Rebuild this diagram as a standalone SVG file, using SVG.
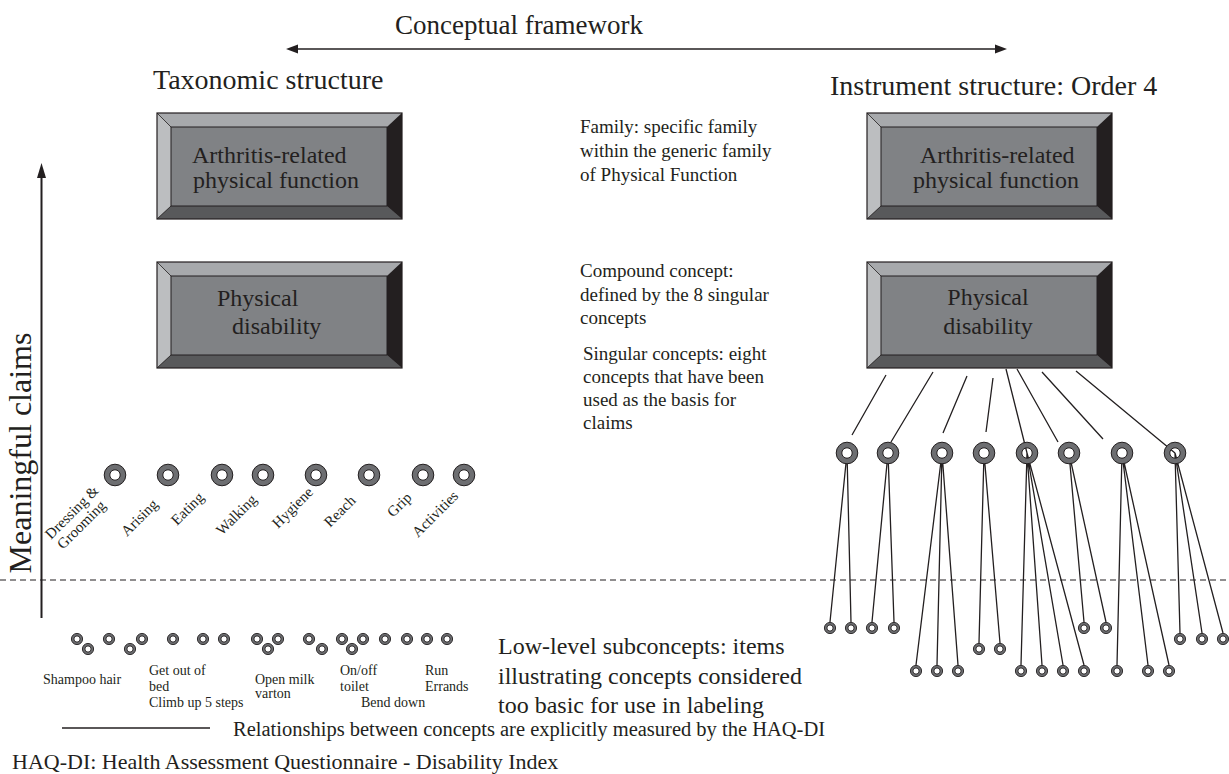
<svg xmlns="http://www.w3.org/2000/svg" xmlns:xlink="http://www.w3.org/1999/xlink" width="1229" height="774" viewBox="0 0 1229 774">
<style>
text{font-family:"Liberation Serif","Times New Roman",serif;fill:#231f20}
.ln{stroke:#231f20;stroke-width:1.3;fill:none}
.h1{font-size:27px}
.h2{font-size:28px}
.bx{font-size:24px}
.mid{font-size:19px}
.low{font-size:24px}
.rot{font-size:15px}
.lab{font-size:14px}
</style>
<defs>
<g id="bevel">
<rect x="0" y="0" width="245" height="106" fill="#808285"/>
<polygon points="0,0 245,0 230,14 14,14" fill="#a7a9ac"/>
<polygon points="0,0 14,14 14,93 0,106" fill="#bcbec0"/>
<polygon points="0,106 14,93 230,93 245,106" fill="#58595b"/>
<polygon points="245,0 245,106 230,93 230,14" fill="#231f20"/>
<rect x="14" y="14" width="216" height="79" fill="#808285" stroke="#231f20" stroke-width="1"/>
<path d="M0,0 L14,14 M0,106 L14,93" stroke="#231f20" stroke-width="0.8"/>
<rect x="0" y="0" width="245" height="106" fill="none" stroke="#231f20" stroke-width="1.2"/>
</g>
<g id="ring"><circle r="8" fill="none" stroke="#6d6e71" stroke-width="5.6"/><circle r="10.8" fill="none" stroke="#231f20" stroke-width="1"/><circle r="5.2" fill="none" stroke="#231f20" stroke-width="1"/></g>
<g id="ringw"><circle r="5.2" fill="#fff"/><use xlink:href="#ring" href="#ring"/></g>
<g id="dot"><circle r="5.6" fill="#6d6e71" stroke="#231f20" stroke-width="0.9"/><circle r="3.1" fill="#fff" stroke="#231f20" stroke-width="0.9"/></g>
</defs>
<rect width="1229" height="774" fill="#fff"/>

<!-- headings -->
<g id="headings">
<text class="h1" x="519" y="34" text-anchor="middle">Conceptual framework</text>
<text class="h2" x="153" y="89">Taxonomic structure</text>
<text class="h2" x="830" y="95">Instrument structure: Order 4</text>
<text transform="translate(31,453) rotate(-90)" text-anchor="middle" style="font-size:32px">Meaningful claims</text>
</g>

<!-- connectors -->
<g id="connectors">
<line class="ln" x1="297" y1="49" x2="996" y2="49"/>
<polygon points="286,49 298,44.5 298,53.5" fill="#231f20"/>
<polygon points="1007,49 995,44.5 995,53.5" fill="#231f20"/>
<line x1="41.5" y1="175" x2="41.5" y2="618" stroke="#231f20" stroke-width="2"/>
<polygon points="41.5,163 37,178 46,178" fill="#231f20"/>
<line x1="0" y1="580" x2="1229" y2="580" stroke="#231f20" stroke-width="1.2" stroke-dasharray="6 4"/>
<line x1="62" y1="728" x2="210" y2="728" stroke="#231f20" stroke-width="1.3"/>
<!-- box to singular concepts -->
<path class="ln" d="M886,375 L852,435 M933,372 L891,442 M967,376 L943,433 M993,378 L986,432 M1006,369 L1027,453 M1017,369 L1058,442 M1042,372 L1103,439 M1076,371 L1175,453"/>
<!-- singular concepts to items -->
<path class="ln" d="M847,453 L830,622 M847,453 L851,622 M888,453 L872,622 M888,453 L894,622 M942,453 L916,665 M942,453 L937,665 M942,453 L958,665 M984,453 L979,643 M984,453 L1000,643 M1027,453 L1021,665 M1027,453 L1042,665 M1027,453 L1063,665 M1027,453 L1084,665 M1069,453 L1084,622 M1069,453 L1106,622 M1122,453 L1117,665 M1122,453 L1148,665 M1122,453 L1169,665 M1175,453 L1180,633 M1175,453 L1202,633 M1175,453 L1223,633"/>
</g>

<!-- boxes -->
<g id="box-arthritis-left">
<use xlink:href="#bevel" href="#bevel" x="157" y="113"/>
<text class="bx" x="192" y="163">Arthritis-related</text>
<text class="bx" x="193" y="188">physical function</text>
</g>
<g id="box-disability-left">
<use xlink:href="#bevel" href="#bevel" x="157" y="262"/>
<text class="bx" x="217" y="306">Physical</text>
<text class="bx" x="232" y="334">disability</text>
</g>
<g id="box-arthritis-right">
<use xlink:href="#bevel" href="#bevel" x="867" y="113"/>
<text class="bx" x="920" y="163">Arthritis-related</text>
<text class="bx" x="913" y="188">physical function</text>
</g>
<g id="box-disability-right">
<use xlink:href="#bevel" href="#bevel" x="867" y="262"/>
<text class="bx" x="988" y="305" text-anchor="middle">Physical</text>
<text class="bx" x="988" y="334" text-anchor="middle">disability</text>
</g>

<!-- descriptions -->
<g id="desc-family">
<text class="mid" x="580" y="133">Family: specific family</text>
<text class="mid" x="580" y="157">within the generic family</text>
<text class="mid" x="580" y="181">of Physical Function</text>
</g>
<g id="desc-compound">
<text class="mid" x="580" y="277">Compound concept:</text>
<text class="mid" x="580" y="301">defined by the 8 singular</text>
<text class="mid" x="580" y="324">concepts</text>
</g>
<g id="desc-singular">
<text class="mid" x="583" y="360">Singular concepts: eight</text>
<text class="mid" x="583" y="383">concepts that have been</text>
<text class="mid" x="583" y="406">used as the basis for</text>
<text class="mid" x="583" y="429">claims</text>
</g>
<g id="desc-low">
<text class="low" x="498" y="654">Low-level subconcepts: items</text>
<text class="low" x="498" y="684">illustrating concepts considered</text>
<text class="low" x="498" y="713">too basic for use in labeling</text>
</g>

<!-- left singular concepts -->
<g id="left-singular">
<use xlink:href="#ringw" href="#ringw" x="115" y="475"/>
<use xlink:href="#ringw" href="#ringw" x="168" y="475"/>
<use xlink:href="#ringw" href="#ringw" x="222" y="475"/>
<use xlink:href="#ringw" href="#ringw" x="263" y="475"/>
<use xlink:href="#ringw" href="#ringw" x="316" y="475"/>
<use xlink:href="#ringw" href="#ringw" x="369" y="475"/>
<use xlink:href="#ringw" href="#ringw" x="423" y="475"/>
<use xlink:href="#ringw" href="#ringw" x="464" y="475"/>
<text class="rot" transform="translate(51,540) rotate(-45)">Dressing &amp;</text>
<text class="rot" transform="translate(63,550) rotate(-45)">Grooming</text>
<text class="rot" transform="translate(127,537) rotate(-45)">Arising</text>
<text class="rot" transform="translate(177,526) rotate(-45)">Eating</text>
<text class="rot" transform="translate(222,536) rotate(-45)">Walking</text>
<text class="rot" transform="translate(278,529) rotate(-45)">Hygiene</text>
<text class="rot" transform="translate(330,528) rotate(-45)">Reach</text>
<text class="rot" transform="translate(393,518) rotate(-45)">Grip</text>
<text class="rot" transform="translate(418,538) rotate(-45)">Activities</text>
</g>

<!-- left items -->
<g id="left-items">
<use xlink:href="#dot" href="#dot" x="77" y="639"/>
<use xlink:href="#dot" href="#dot" x="88" y="649"/>
<use xlink:href="#dot" href="#dot" x="109" y="639"/>
<use xlink:href="#dot" href="#dot" x="130" y="649"/>
<use xlink:href="#dot" href="#dot" x="142" y="639"/>
<use xlink:href="#dot" href="#dot" x="173" y="639"/>
<use xlink:href="#dot" href="#dot" x="203" y="639"/>
<use xlink:href="#dot" href="#dot" x="224" y="639"/>
<use xlink:href="#dot" href="#dot" x="257" y="639"/>
<use xlink:href="#dot" href="#dot" x="268" y="649"/>
<use xlink:href="#dot" href="#dot" x="278" y="639"/>
<use xlink:href="#dot" href="#dot" x="309" y="639"/>
<use xlink:href="#dot" href="#dot" x="322" y="649"/>
<use xlink:href="#dot" href="#dot" x="342" y="639"/>
<use xlink:href="#dot" href="#dot" x="352" y="649"/>
<use xlink:href="#dot" href="#dot" x="363" y="639"/>
<use xlink:href="#dot" href="#dot" x="385" y="639"/>
<use xlink:href="#dot" href="#dot" x="407" y="639"/>
<use xlink:href="#dot" href="#dot" x="427" y="639"/>
<use xlink:href="#dot" href="#dot" x="447" y="639"/>
<text class="lab" x="43" y="684">Shampoo hair</text>
<text class="lab" x="149" y="675">Get out of</text>
<text class="lab" x="149" y="691">bed</text>
<text class="lab" x="149" y="707">Climb up 5 steps</text>
<text class="lab" x="255" y="684">Open milk</text>
<text class="lab" x="255" y="698">varton</text>
<text class="lab" x="340" y="675">On/off</text>
<text class="lab" x="340" y="691">toilet</text>
<text class="lab" x="361" y="707">Bend down</text>
<text class="lab" x="425" y="675">Run</text>
<text class="lab" x="425" y="691">Errands</text>
</g>

<!-- right singular concepts -->
<g id="right-singular">
<use xlink:href="#ringw" href="#ringw" x="847" y="453"/>
<use xlink:href="#ringw" href="#ringw" x="888" y="453"/>
<use xlink:href="#ringw" href="#ringw" x="942" y="453"/>
<use xlink:href="#ringw" href="#ringw" x="984" y="453"/>
<use xlink:href="#ring" href="#ring" x="1027" y="453"/>
<use xlink:href="#ringw" href="#ringw" x="1069" y="453"/>
<use xlink:href="#ringw" href="#ringw" x="1122" y="453"/>
<use xlink:href="#ring" href="#ring" x="1175" y="453"/>
</g>

<!-- right items -->
<g id="right-items">
<use xlink:href="#dot" href="#dot" x="830" y="628"/>
<use xlink:href="#dot" href="#dot" x="851" y="628"/>
<use xlink:href="#dot" href="#dot" x="872" y="628"/>
<use xlink:href="#dot" href="#dot" x="894" y="628"/>
<use xlink:href="#dot" href="#dot" x="916" y="671"/>
<use xlink:href="#dot" href="#dot" x="937" y="671"/>
<use xlink:href="#dot" href="#dot" x="958" y="671"/>
<use xlink:href="#dot" href="#dot" x="979" y="649"/>
<use xlink:href="#dot" href="#dot" x="1000" y="649"/>
<use xlink:href="#dot" href="#dot" x="1021" y="671"/>
<use xlink:href="#dot" href="#dot" x="1042" y="671"/>
<use xlink:href="#dot" href="#dot" x="1063" y="671"/>
<use xlink:href="#dot" href="#dot" x="1084" y="671"/>
<use xlink:href="#dot" href="#dot" x="1084" y="628"/>
<use xlink:href="#dot" href="#dot" x="1106" y="628"/>
<use xlink:href="#dot" href="#dot" x="1117" y="671"/>
<use xlink:href="#dot" href="#dot" x="1148" y="671"/>
<use xlink:href="#dot" href="#dot" x="1169" y="671"/>
<use xlink:href="#dot" href="#dot" x="1180" y="639"/>
<use xlink:href="#dot" href="#dot" x="1202" y="639"/>
<use xlink:href="#dot" href="#dot" x="1223" y="639"/>
</g>

<!-- legend -->
<g id="legend">
<text x="233" y="736" style="font-size:20.5px">Relationships between concepts are explicitly measured by the HAQ-DI</text>
<text x="12" y="769" style="font-size:22px">HAQ-DI: Health Assessment Questionnaire - Disability Index</text>
</g>
</svg>
